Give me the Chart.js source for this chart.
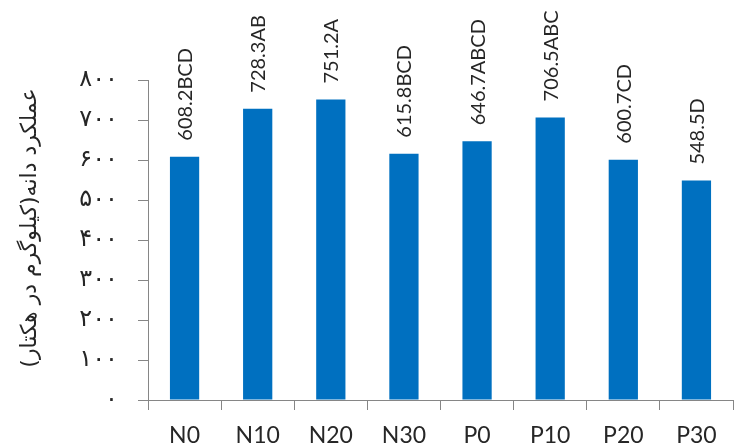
<!DOCTYPE html>
<html>
<head>
<meta charset="utf-8">
<script src="https://cdn.jsdelivr.net/npm/chart.js@4/dist/chart.umd.min.js"></script>
<style>
  html, body { margin: 0; padding: 0; background: #ffffff; }
  #wrap { width: 735px; height: 448px; position: relative; }
</style>
</head>
<body>
<div id="wrap"><canvas id="c" width="735" height="448"></canvas></div>
<script>
// Grain yield per treatment (kg/ha) with mean-separation letters
const treatments = ['N0', 'N10', 'N20', 'N30', 'P0', 'P10', 'P20', 'P30'];
const yields = [608.2, 728.3, 751.2, 615.8, 646.7, 706.5, 600.7, 548.5];
const groups = ['BCD', 'AB', 'A', 'BCD', 'ABCD', 'ABC', 'CD', 'D'];
const yTickValues = [0, 100, 200, 300, 400, 500, 600, 700, 800];
const yTitle = 'عملکرد دانه(کیلوگرم در هکتار)';

const persianDigits = ['۰','۱','۲','۳','۴','۵','۶','۷','۸','۹'];
const toPersian = n => String(n).replace(/[0-9]/g, d => persianDigits[+d]);

const AXIS = '#868686';
const TEXT = '#262626';

// Vertical value + letter labels above each bar, plus the rotated y-axis title
const barLabels = {
  id: 'barLabels',
  afterDatasetsDraw(chart) {
    const ctx = chart.ctx;
    const meta = chart.getDatasetMeta(0);
    ctx.save();
    ctx.font = '20px Lato';
    ctx.fillStyle = TEXT;
    ctx.textAlign = 'left';
    ctx.textBaseline = 'middle';
    meta.data.forEach((bar, i) => {
      const txt = yields[i].toFixed(1) + groups[i];
      ctx.save();
      ctx.translate(bar.x + 1, bar.y - 16);
      ctx.rotate(-Math.PI / 2);
      ctx.fillText(txt, 0, 0);
      ctx.restore();
    });
    ctx.restore();

    // axis title
    const area = chart.chartArea;
    ctx.save();
    ctx.font = '22px "DejaVu Sans"';
    ctx.fillStyle = TEXT;
    ctx.textAlign = 'center';
    ctx.textBaseline = 'middle';
    ctx.translate(30, (area.top + area.bottom) / 2 - 12);
    ctx.rotate(-Math.PI / 2);
    ctx.fillText(yTitle, 0, 0);
    ctx.restore();
  }
};

new Chart(document.getElementById('c'), {
  type: 'bar',
  data: {
    labels: treatments,
    datasets: [{
      data: yields,
      backgroundColor: '#0070C0',
      borderWidth: 0,
      barPercentage: 0.4,
      categoryPercentage: 1.0
    }]
  },
  options: {
    responsive: false,
    animation: false,
    devicePixelRatio: 1,
    layout: { padding: { top: 80, right: 2, bottom: 0, left: 0 } },
    plugins: {
      legend: { display: false },
      tooltip: { enabled: false }
    },
    scales: {
      x: {
        offset: true,
        afterFit(scale) { scale.height = 48; },
        grid: {
          offset: true,
          drawOnChartArea: false,
          drawTicks: true,
          tickLength: 10,
          color: AXIS,
          lineWidth: 1
        },
        border: { display: true, color: AXIS, width: 1 },
        ticks: {
          color: TEXT,
          font: { family: 'Lato', size: 23 },
          padding: 12,
          maxRotation: 0
        }
      },
      y: {
        min: 0,
        max: 800,
        afterFit(scale) { scale.width = 148; },
        afterBuildTicks(scale) { scale.ticks = yTickValues.map(v => ({ value: v })); },
        grid: {
          drawOnChartArea: false,
          drawTicks: true,
          tickLength: 10,
          color: AXIS,
          lineWidth: 1
        },
        border: { display: true, color: AXIS, width: 1 },
        ticks: {
          color: TEXT,
          font: { family: '"DejaVu Sans"', size: 24 },
          padding: 20,
          callback: v => toPersian(v)
        }
      }
    }
  },
  plugins: [barLabels]
});
</script>
</body>
</html>
